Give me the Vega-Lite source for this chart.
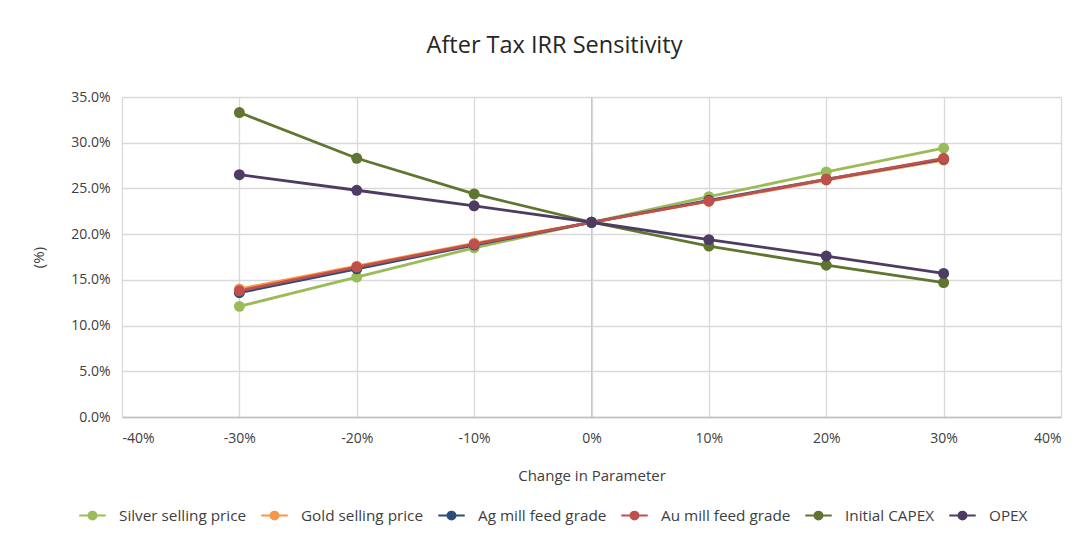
{
  "$schema": "https://vega.github.io/schema/vega-lite/v6.json",
  "width": 939,
  "height": 320,
  "autosize": {"type": "none"},
  "padding": {"left": 122, "top": 97, "right": 31, "bottom": 118},
  "background": "white",
  "config": {
    "font": "Open Sans",
    "view": {"stroke": null},
    "locale": {"number": {"decimal": ".", "thousands": ",", "grouping": [3], "currency": ["$", ""], "minus": "-"}},
    "axis": {"labelFont": "Open Sans", "titleFont": "Open Sans", "labelColor": "#404040", "titleColor": "#404040", "gridColor": "#D9D9D9", "gridWidth": 1.3}
  },
  "title": {"text": "After Tax IRR Sensitivity", "fontSize": 23.5, "font": "Open Sans", "fontWeight": "normal", "color": "#262626", "anchor": "middle", "offset": 33, "frame": "group", "dx": -37},
  "data": {"values": [
    {"s": "Silver selling price", "x": -0.3, "y": 0.121},
    {"s": "Silver selling price", "x": -0.2, "y": 0.153},
    {"s": "Silver selling price", "x": -0.1, "y": 0.185},
    {"s": "Silver selling price", "x": 0.0, "y": 0.213},
    {"s": "Silver selling price", "x": 0.1, "y": 0.241},
    {"s": "Silver selling price", "x": 0.2, "y": 0.268},
    {"s": "Silver selling price", "x": 0.3, "y": 0.294},
    {"s": "Gold selling price", "x": -0.3, "y": 0.140},
    {"s": "Gold selling price", "x": -0.2, "y": 0.165},
    {"s": "Gold selling price", "x": -0.1, "y": 0.190},
    {"s": "Gold selling price", "x": 0.0, "y": 0.213},
    {"s": "Gold selling price", "x": 0.1, "y": 0.236},
    {"s": "Gold selling price", "x": 0.2, "y": 0.259},
    {"s": "Gold selling price", "x": 0.3, "y": 0.281},
    {"s": "Ag mill feed grade", "x": -0.3, "y": 0.136},
    {"s": "Ag mill feed grade", "x": -0.2, "y": 0.162},
    {"s": "Ag mill feed grade", "x": -0.1, "y": 0.188},
    {"s": "Ag mill feed grade", "x": 0.0, "y": 0.213},
    {"s": "Ag mill feed grade", "x": 0.1, "y": 0.237},
    {"s": "Ag mill feed grade", "x": 0.2, "y": 0.260},
    {"s": "Ag mill feed grade", "x": 0.3, "y": 0.282},
    {"s": "Au mill feed grade", "x": -0.3, "y": 0.138},
    {"s": "Au mill feed grade", "x": -0.2, "y": 0.164},
    {"s": "Au mill feed grade", "x": -0.1, "y": 0.189},
    {"s": "Au mill feed grade", "x": 0.0, "y": 0.213},
    {"s": "Au mill feed grade", "x": 0.1, "y": 0.236},
    {"s": "Au mill feed grade", "x": 0.2, "y": 0.260},
    {"s": "Au mill feed grade", "x": 0.3, "y": 0.283},
    {"s": "Initial CAPEX", "x": -0.3, "y": 0.333},
    {"s": "Initial CAPEX", "x": -0.2, "y": 0.283},
    {"s": "Initial CAPEX", "x": -0.1, "y": 0.244},
    {"s": "Initial CAPEX", "x": 0.0, "y": 0.213},
    {"s": "Initial CAPEX", "x": 0.1, "y": 0.187},
    {"s": "Initial CAPEX", "x": 0.2, "y": 0.166},
    {"s": "Initial CAPEX", "x": 0.3, "y": 0.147},
    {"s": "OPEX", "x": -0.3, "y": 0.265},
    {"s": "OPEX", "x": -0.2, "y": 0.248},
    {"s": "OPEX", "x": -0.1, "y": 0.231},
    {"s": "OPEX", "x": 0.0, "y": 0.213},
    {"s": "OPEX", "x": 0.1, "y": 0.194},
    {"s": "OPEX", "x": 0.2, "y": 0.176},
    {"s": "OPEX", "x": 0.3, "y": 0.157}
  ]},
  "encoding": {
    "x": {"field": "x", "type": "quantitative",
      "scale": {"domain": [-0.4, 0.4], "nice": false, "zero": false},
      "axis": {"values": [-0.4, -0.3, -0.2, -0.1, 0, 0.1, 0.2, 0.3, 0.4], "format": ".0%", "title": "Change in Parameter", "titleFontSize": 15, "titleFontWeight": "normal", "titlePadding": 23, "labelFontSize": 14, "labelPadding": 14, "ticks": false, "domain": true, "domainColor": "#BFBFBF", "domainWidth": 1.3, "grid": true}},
    "y": {"field": "y", "type": "quantitative",
      "scale": {"domain": [0, 0.35], "nice": false},
      "axis": {"values": [0, 0.05, 0.1, 0.15, 0.2, 0.25, 0.3, 0.35], "format": ".1%", "title": "(%)", "titleFontSize": 15, "titleFontWeight": "normal", "titlePadding": 24, "labelFontSize": 14, "labelPadding": 12, "ticks": false, "domain": false, "grid": true}},
    "color": {"field": "s", "type": "nominal",
      "scale": {"domain": ["Silver selling price", "Gold selling price", "Ag mill feed grade", "Au mill feed grade", "Initial CAPEX", "OPEX"],
                "range": ["#9BBB59", "#F79646", "#2C4D75", "#C0504D", "#5F7530", "#4D3B62"]},
      "legend": {"title": null, "orient": "none", "direction": "horizontal", "legendX": -44, "legendY": 404,
         "symbolType": "M -1 0 L 1 0 M 0.3 0 A 0.3 0.3 0 1 1 -0.3 0 A 0.3 0.3 0 1 1 0.3 0 Z",
         "symbolSize": 700, "symbolStrokeWidth": 2, "symbolOpacity": 1, "labelFontSize": 15.3, "labelColor": "#404040", "labelFont": "Open Sans", "columnPadding": 10, "labelOffset": 12,
         "encode": {"symbols": {"update": {"stroke": {"scale": "color", "field": "value"}, "fill": {"scale": "color", "field": "value"}, "strokeWidth": {"value": 2}, "opacity": {"value": 1}}}}}}
  },
  "layer": [
    {"mark": {"type": "rule", "color": "#C8C8C8", "strokeWidth": 1}, "encoding": {"x": {"datum": 0}, "y": null, "color": null}},
    {"mark": {"type": "line", "strokeWidth": 2.8}, "encoding": {"detail": {"field": "s"}}},
    {"mark": {"type": "point", "filled": true, "size": 120, "opacity": 1}}
  ]
}
